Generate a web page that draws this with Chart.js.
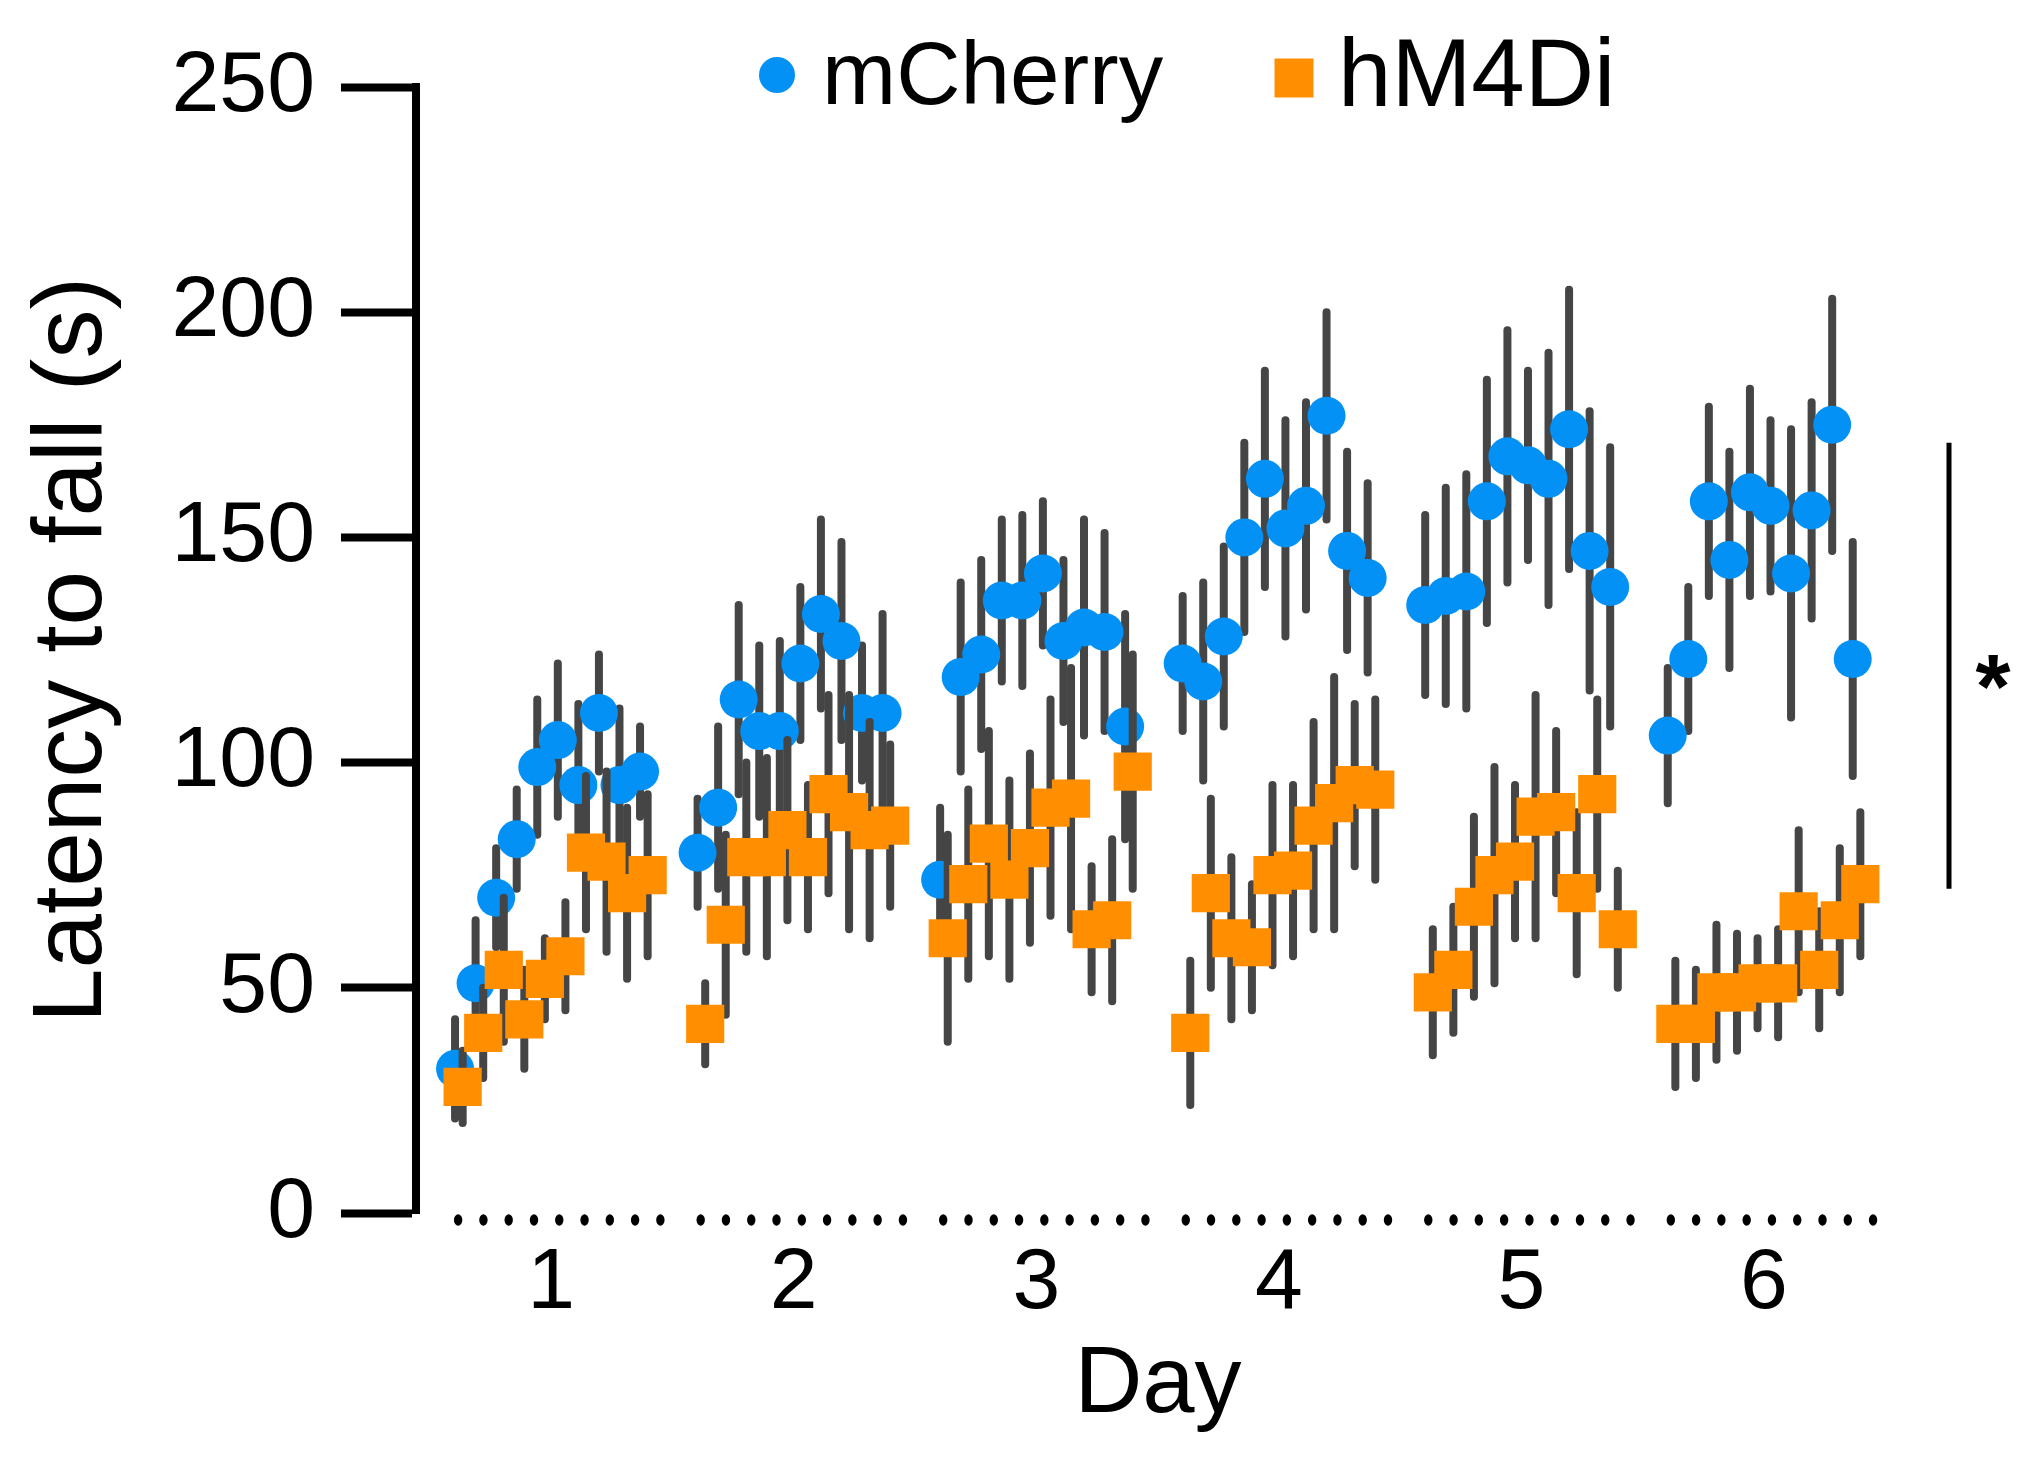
<!DOCTYPE html>
<html>
<head>
<meta charset="UTF-8">
<title>Latency to fall</title>
<style>
  html, body { margin: 0; padding: 0; background: #fff; }
</style>
<script src="https://cdn.jsdelivr.net/npm/chart.js"></script>
</head>
<body>
<canvas id="latencyChart" width="2040" height="1460"></canvas>
<script>
// values, 10 trials per day
const days = ['1', '2', '3', '4', '5', '6'];

const mcherryMean = [
  32, 51, 70, 83, 99, 105, 95, 111, 95, 98,
  80, 90, 114, 107, 107, 122, 133, 127, 111, 111,
  74, 119, 124, 136, 136, 142, 127, 130, 129, 108,
  122, 118, 128, 150, 163, 152, 157, 177, 147, 141,
  135, 137, 138, 158, 168, 166, 163, 174, 147, 139,
  106, 123, 158, 145, 160, 157, 142, 156, 175, 123
];
const mcherrySem = [
  11, 14, 11, 11, 15, 17, 18, 13, 17, 10,
  12, 18, 21, 19, 20, 17, 21, 22, 15, 22,
  16, 21, 21, 18, 19, 16, 18, 24, 22, 25,
  15, 22, 20, 21, 24, 24, 23, 23, 22, 21,
  20, 24, 26, 27, 28, 21, 28, 31, 31, 31,
  15, 16, 21, 24, 23, 19, 32, 24, 28, 26
];
const hm4diMean = [
  28, 40, 54, 43, 52, 57, 80, 78, 71, 75,
  42, 64, 79, 79, 85, 79, 93, 89, 85, 86,
  61, 73, 82, 74, 81, 90, 92, 63, 65, 98,
  40, 71, 61, 59, 75, 76, 86, 91, 95, 94,
  49, 54, 68, 75, 78, 88, 89, 71, 93, 63,
  42, 42, 49, 49, 51, 51, 67, 54, 65, 73
];
const hm4diSem = [
  8, 10, 16, 11, 9, 12, 17, 20, 19, 18,
  9, 20, 21, 22, 20, 16, 22, 26, 24, 18,
  23, 21, 25, 22, 21, 24, 29, 14, 18, 26,
  16, 21, 18, 14, 20, 19, 23, 28, 18, 20,
  14, 14, 20, 24, 17, 27, 18, 18, 21, 13,
  14, 12, 15, 13, 10, 12, 18, 13, 16, 16
];
const sigRange = [72, 171];

const TRIALS = 10;
const PERIOD = 11.8;   // x units from one day to the next
const SHIFT = 0.37;    // hM4Di sits a little right of mCherry
const BLUE = '#0391F5';
const ORANGE = '#FF8F00';
const FONT = 'Liberation Sans, Arial, sans-serif';

function toPoints(values, shift) {
  return values.map((v, i) => ({
    x: Math.floor(i / TRIALS) * PERIOD + (i % TRIALS) + shift,
    y: v
  }));
}

const semFor = { mCherry: mcherrySem, hM4Di: hm4diSem };

const errorBars = {
  id: 'errorBars',
  beforeDatasetDraw(chart, args) {
    const ds = chart.data.datasets[args.index];
    const sem = semFor[ds.label];
    const y = chart.scales.y;
    const ctx = chart.ctx;
    ctx.save();
    ctx.strokeStyle = '#454545';
    ctx.lineWidth = 8;
    ctx.lineCap = 'round';
    args.meta.data.forEach((pt, i) => {
      const v = ds.data[i].y;
      ctx.beginPath();
      ctx.moveTo(pt.x, y.getPixelForValue(v + sem[i]));
      ctx.lineTo(pt.x, y.getPixelForValue(v - sem[i]));
      ctx.stroke();
    });
    ctx.restore();
  }
};

// dotted baseline under each day
const dayBaseline = {
  id: 'dayBaseline',
  beforeDatasetsDraw(chart) {
    const { ctx, scales: { x, y } } = chart;
    const py = y.getPixelForValue(0) + 7;
    ctx.save();
    ctx.fillStyle = '#000';
    days.forEach((d, di) => {
      for (let k = 0; k < 9; k++) {
        const px = x.getPixelForValue(di * PERIOD + 0.15 + k * 1.23);
        ctx.beginPath();
        ctx.ellipse(px, py, 4.2, 5.8, 0, 0, Math.PI * 2);
        ctx.fill();
      }
    });
    ctx.restore();
  }
};

const extras = {
  id: 'extras',
  afterDraw(chart) {
    const { ctx, chartArea, scales: { y } } = chart;
    ctx.save();
    // legend
    ctx.fillStyle = BLUE;
    ctx.beginPath();
    ctx.arc(777, 75, 18, 0, Math.PI * 2);
    ctx.fill();
    ctx.fillStyle = ORANGE;
    ctx.fillRect(1294 - 19.5, 78 - 19.5, 39, 39);
    ctx.fillStyle = '#000';
    ctx.textAlign = 'left';
    ctx.textBaseline = 'alphabetic';
    ctx.font = '89px ' + FONT;
    ctx.fillText('mCherry', 822, 104);
    ctx.font = '96px ' + FONT;
    ctx.fillText('hM4Di', 1338, 106);

    // significance bar
    const bx = chartArea.right + 49;
    ctx.strokeStyle = '#000';
    ctx.lineWidth = 5;
    ctx.beginPath();
    ctx.moveTo(bx, y.getPixelForValue(sigRange[1]));
    ctx.lineTo(bx, y.getPixelForValue(sigRange[0]));
    ctx.stroke();
    ctx.font = 'bold 90px ' + FONT;
    ctx.textAlign = 'center';
    const midY = y.getPixelForValue((sigRange[0] + sigRange[1]) / 2);
    ctx.fillText('*', bx + 44, midY + 52);
    ctx.restore();
  }
};

Chart.defaults.font.family = FONT;
Chart.defaults.color = '#000';

new Chart(document.getElementById('latencyChart'), {
  type: 'scatter',
  data: {
    datasets: [
      {
        label: 'mCherry',
        data: toPoints(mcherryMean, 0),
        backgroundColor: BLUE,
        borderWidth: 0,
        pointStyle: 'circle',
        pointRadius: 19,
        pointHoverRadius: 19,
        order: 2
      },
      {
        label: 'hM4Di',
        data: toPoints(hm4diMean, SHIFT),
        backgroundColor: ORANGE,
        borderWidth: 0,
        pointStyle: 'rect',
        pointRadius: 27,
        pointHoverRadius: 27,
        order: 1
      }
    ]
  },
  options: {
    responsive: false,
    animation: false,
    layout: { padding: { top: 87, right: 140, bottom: 0, left: 0 } },
    plugins: {
      legend: { display: false },
      tooltip: { enabled: false }
    },
    scales: {
      x: {
        type: 'linear',
        min: -1.9,
        max: 70.3,
        grid: { display: false, drawTicks: false },
        border: { display: false },
        afterBuildTicks(scale) {
          scale.ticks = days.map((d, i) => ({ value: i * PERIOD + 4.68 }));
        },
        ticks: {
          autoSkip: false,
          maxRotation: 0,
          padding: 20,
          font: { size: 86 },
          callback: (v, i) => days[i]
        },
        title: {
          display: true,
          text: 'Day',
          font: { size: 94 },
          padding: { top: 0, bottom: 18 }
        },
        afterFit(scale) { scale.height = 247; }
      },
      y: {
        min: 0,
        max: 250,
        ticks: { stepSize: 50, padding: 26, font: { size: 86 } },
        grid: { drawOnChartArea: false, tickLength: 75, tickWidth: 8, tickColor: '#000' },
        border: { display: true, width: 8, color: '#000' },
        title: {
          display: true,
          text: 'Latency to fall (s)',
          font: { size: 98 },
          padding: { top: 15, bottom: 0 }
        },
        afterFit(scale) { scale.width = 416; }
      }
    }
  },
  plugins: [errorBars, dayBaseline, extras]
});
</script>
</body>
</html>
